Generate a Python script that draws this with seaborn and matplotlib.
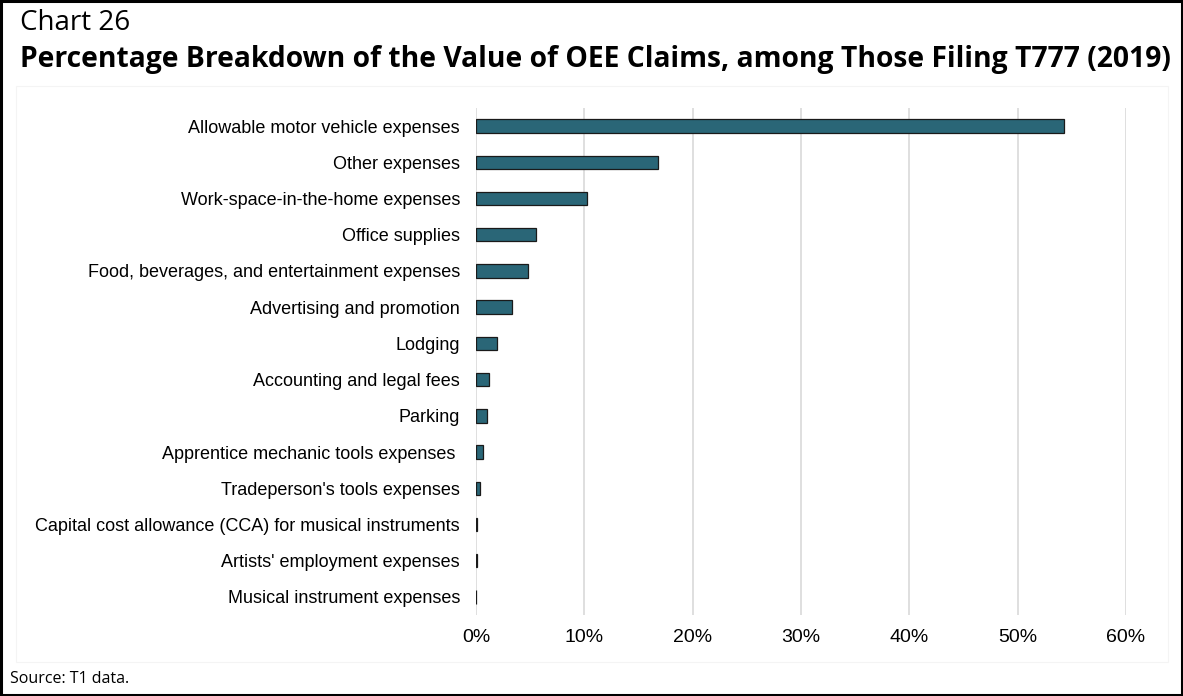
import matplotlib
matplotlib.use("Agg")
import matplotlib.pyplot as plt
from matplotlib.ticker import PercentFormatter, MultipleLocator
from matplotlib.patches import Rectangle
import seaborn as sns
import pandas as pd

categories = [
    "Allowable motor vehicle expenses",
    "Other expenses",
    "Work-space-in-the-home expenses",
    "Office supplies",
    "Food, beverages, and entertainment expenses",
    "Advertising and promotion",
    "Lodging",
    "Accounting and legal fees",
    "Parking",
    "Apprentice mechanic tools expenses ",
    "Tradeperson's tools expenses",
    "Capital cost allowance (CCA) for musical instruments",
    "Artists' employment expenses",
    "Musical instrument expenses",
]
shares = [54.3, 16.8, 10.25, 5.5, 4.8, 3.3, 1.95, 1.2, 1.05, 0.65, 0.4, 0.1, 0.05, 0.02]

df = pd.DataFrame({"category": categories, "share": shares})

sns.set_theme(style="white")
plt.rcParams["font.family"] = ["Liberation Sans", "DejaVu Sans"]

fig = plt.figure(figsize=(11.83, 6.96), dpi=100)
ax = fig.add_axes([0.4024, 0.1164, 0.5494, 0.7284])

sns.barplot(data=df, x="share", y="category", orient="h", color="#2a6677",
            saturation=1, width=0.37, edgecolor="#1a1a1a", linewidth=0.9, ax=ax)

ax.set_xlim(0, 60)
ax.xaxis.set_major_locator(MultipleLocator(10))
ax.xaxis.set_major_formatter(PercentFormatter(xmax=100, decimals=0))
ax.grid(axis="x", color="#d9d9d9", linewidth=1.2)
ax.set_axisbelow(True)
for s in ax.spines.values():
    s.set_visible(False)
ax.set_xlabel("")
ax.set_ylabel("")
ax.tick_params(axis="y", length=0, pad=11.5, labelsize=13.0, labelcolor="#000000")
ax.tick_params(axis="x", length=0, pad=10, labelsize=14, labelcolor="#000000")

# Titles and source note
head_font = ["Open Sans", "DejaVu Sans"]
fig.text(20 / 1183, 1 - 23 / 696, "Chart 26", fontsize=20, family=head_font,
         color="#000000", ha="left", va="center")
fig.text(20 / 1183, 1 - 60 / 696,
         "Percentage Breakdown of the Value of OEE Claims, among Those Filing T777 (2019)",
         fontsize=20.3, fontweight="bold", family=head_font, color="#000000",
         ha="left", va="center")
fig.text(10 / 1183, 1 - 679 / 696, "Source: T1 data.", fontsize=11.5,
         family=head_font, color="#000000", ha="left", va="center")

# Faint chart-area frame and outer border
fig.patches.append(Rectangle((16 / 1183, 1 - 662 / 696), (1168 - 16) / 1183, (662 - 86) / 696,
                             transform=fig.transFigure, fill=False, edgecolor="#f4f4f4", linewidth=0.8))
fig.patches.append(Rectangle((0.001, 0.0015), 0.998, 0.997, transform=fig.transFigure,
                             fill=False, edgecolor="#000000", linewidth=2.2))

fig.savefig("out.png", dpi=100)
